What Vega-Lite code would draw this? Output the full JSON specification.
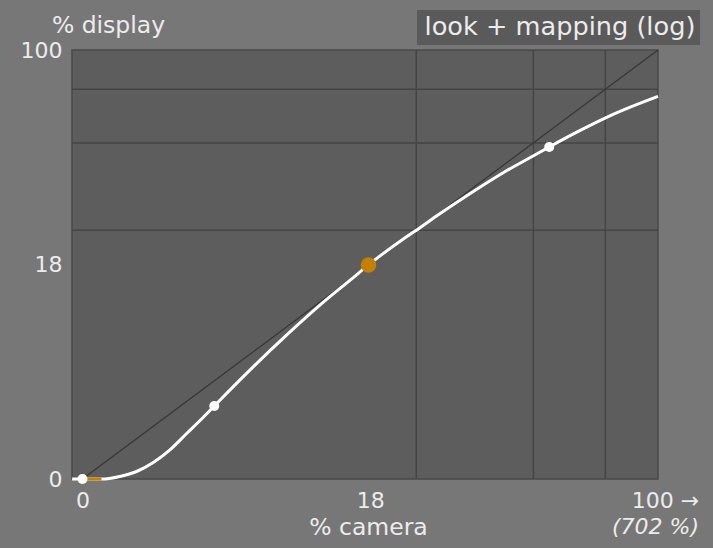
{
  "$schema": "https://vega.github.io/schema/vega-lite/v6.json",
  "width": 586,
  "height": 429,
  "autosize": {"type": "none"},
  "padding": {"left": 72, "top": 50, "right": 55, "bottom": 69},
  "background": "#777777",
  "config": {
    "view": {"fill": "#5d5d5d", "stroke": "#4a4a4a", "strokeWidth": 1.5},
    "font": "DejaVu Sans"
  },
  "datasets": {
    "grid": [{"v": 58.0}, {"v": 78.35}, {"v": 90.85}],
    "diag": [{"x": 0, "y": 0}, {"x": 100, "y": 100}],
    "curve": [
      {"x": -1.8, "y": 0}, {"x": 0, "y": 0}, {"x": 3.3, "y": 0}, {"x": 6.5, "y": 0.6},
      {"x": 9.4, "y": 1.75}, {"x": 12.3, "y": 3.85}, {"x": 15.2, "y": 6.8},
      {"x": 18.1, "y": 10.6}, {"x": 21.0, "y": 14.4}, {"x": 22.9, "y": 17.0},
      {"x": 25.0, "y": 19.9}, {"x": 29.7, "y": 26.2}, {"x": 35.5, "y": 33.6},
      {"x": 41.3, "y": 40.6}, {"x": 47.0, "y": 46.9}, {"x": 49.7, "y": 49.9},
      {"x": 55.7, "y": 55.9}, {"x": 57.8, "y": 57.8}, {"x": 61.5, "y": 61.3},
      {"x": 67.3, "y": 66.5}, {"x": 73.1, "y": 71.4}, {"x": 78.3, "y": 75.3},
      {"x": 81.1, "y": 77.4}, {"x": 86.4, "y": 81.2}, {"x": 92.2, "y": 85.0},
      {"x": 100, "y": 89.2}
    ],
    "toe": [{"x": 0, "y": 0}, {"x": 3.3, "y": 0}],
    "nodes": [{"x": 0, "y": 0}, {"x": 22.9, "y": 17.0}, {"x": 81.1, "y": 77.4}],
    "grey": [{"x": 49.7, "y": 49.9}]
  },
  "layer": [
    {
      "data": {"name": "grid"},
      "mark": {"type": "rule", "color": "#454545", "strokeWidth": 1.5},
      "encoding": {"x": {"field": "v", "type": "quantitative"}}
    },
    {
      "data": {"name": "grid"},
      "mark": {"type": "rule", "color": "#454545", "strokeWidth": 1.5},
      "encoding": {"y": {"field": "v", "type": "quantitative"}}
    },
    {
      "data": {"name": "diag"},
      "mark": {"type": "line", "color": "#363636", "strokeWidth": 1.2},
      "encoding": {
        "x": {"field": "x", "type": "quantitative"},
        "y": {"field": "y", "type": "quantitative"}
      }
    },
    {
      "data": {"name": "curve"},
      "mark": {"type": "line", "strokeWidth": 3, "interpolate": "monotone", "color": "#ffffff"},
      "encoding": {
        "x": {
          "field": "x", "type": "quantitative",
          "scale": {"domain": [-1.82, 100], "nice": false, "zero": false},
          "axis": {
            "values": [0, 50, 100],
            "labelExpr": "datum.value == 0 ? '0' : (datum.value == 50 ? '18' : '100 →')",
            "title": "% camera",
            "grid": false, "ticks": false, "domain": false, "labelFlush": false, "labelOverlap": false,
            "labelFontSize": 22, "labelColor": "#ececec", "labelPadding": 11,
            "labelOffset": {"condition": {"test": "datum.value == 100", "value": 7}, "value": 0},
            "titleFontSize": 23.5, "titleFontWeight": "normal", "titleColor": "#ececec",
            "titleX": 296, "titleY": 48, "titleBaseline": "middle", "titleAlign": "center"
          }
        },
        "y": {
          "field": "y", "type": "quantitative",
          "scale": {"domain": [0, 100], "nice": false},
          "axis": {
            "values": [0, 50, 100],
            "labelExpr": "datum.value == 50 ? '18' : datum.label",
            "title": "% display",
            "titleAngle": 0, "titleX": 36, "titleY": -25, "titleAlign": "center", "titleBaseline": "middle",
            "grid": false, "ticks": false, "domain": false,
            "labelFontSize": 22, "labelColor": "#ececec", "labelPadding": 10,
            "titleFontSize": 23.5, "titleFontWeight": "normal", "titleColor": "#ececec"
          }
        }
      }
    },
    {
      "data": {"name": "toe"},
      "mark": {"type": "line", "color": "#c48000", "strokeWidth": 3},
      "encoding": {
        "x": {"field": "x", "type": "quantitative"},
        "y": {"field": "y", "type": "quantitative"}
      }
    },
    {
      "data": {"name": "nodes"},
      "mark": {"type": "point", "filled": true, "opacity": 1, "size": 100},
      "encoding": {
        "x": {"field": "x", "type": "quantitative"},
        "y": {"field": "y", "type": "quantitative"},
        "color": {
          "datum": "look + mapping (log)", "type": "nominal",
          "scale": {"range": ["#ffffff"]},
          "legend": {
            "orient": "none", "legendX": 345, "legendY": -40, "title": null,
            "fillColor": "#5a5a5a", "padding": 4, "labelLimit": 500,
            "labelFontSize": 25.6, "labelColor": "#ececec", "labelFont": "DejaVu Sans",
            "symbolType": "circle", "symbolSize": 0, "symbolOpacity": 0, "symbolStrokeWidth": 0,
            "symbolOffset": -22, "labelOffset": 0
          }
        }
      }
    },
    {
      "data": {"name": "grey"},
      "mark": {"type": "point", "filled": true, "color": "#c48000", "opacity": 1, "size": 240},
      "encoding": {
        "x": {"field": "x", "type": "quantitative"},
        "y": {"field": "y", "type": "quantitative"}
      }
    },
    {
      "data": {"values": [{}]},
      "mark": {"type": "text", "align": "right", "baseline": "middle", "dx": 41, "dy": 48, "fontStyle": "italic", "fontSize": 22, "color": "#ececec", "font": "DejaVu Sans"},
      "encoding": {
        "x": {"datum": 100},
        "y": {"datum": 0},
        "text": {"value": "(702 %)"}
      }
    }
  ]
}
